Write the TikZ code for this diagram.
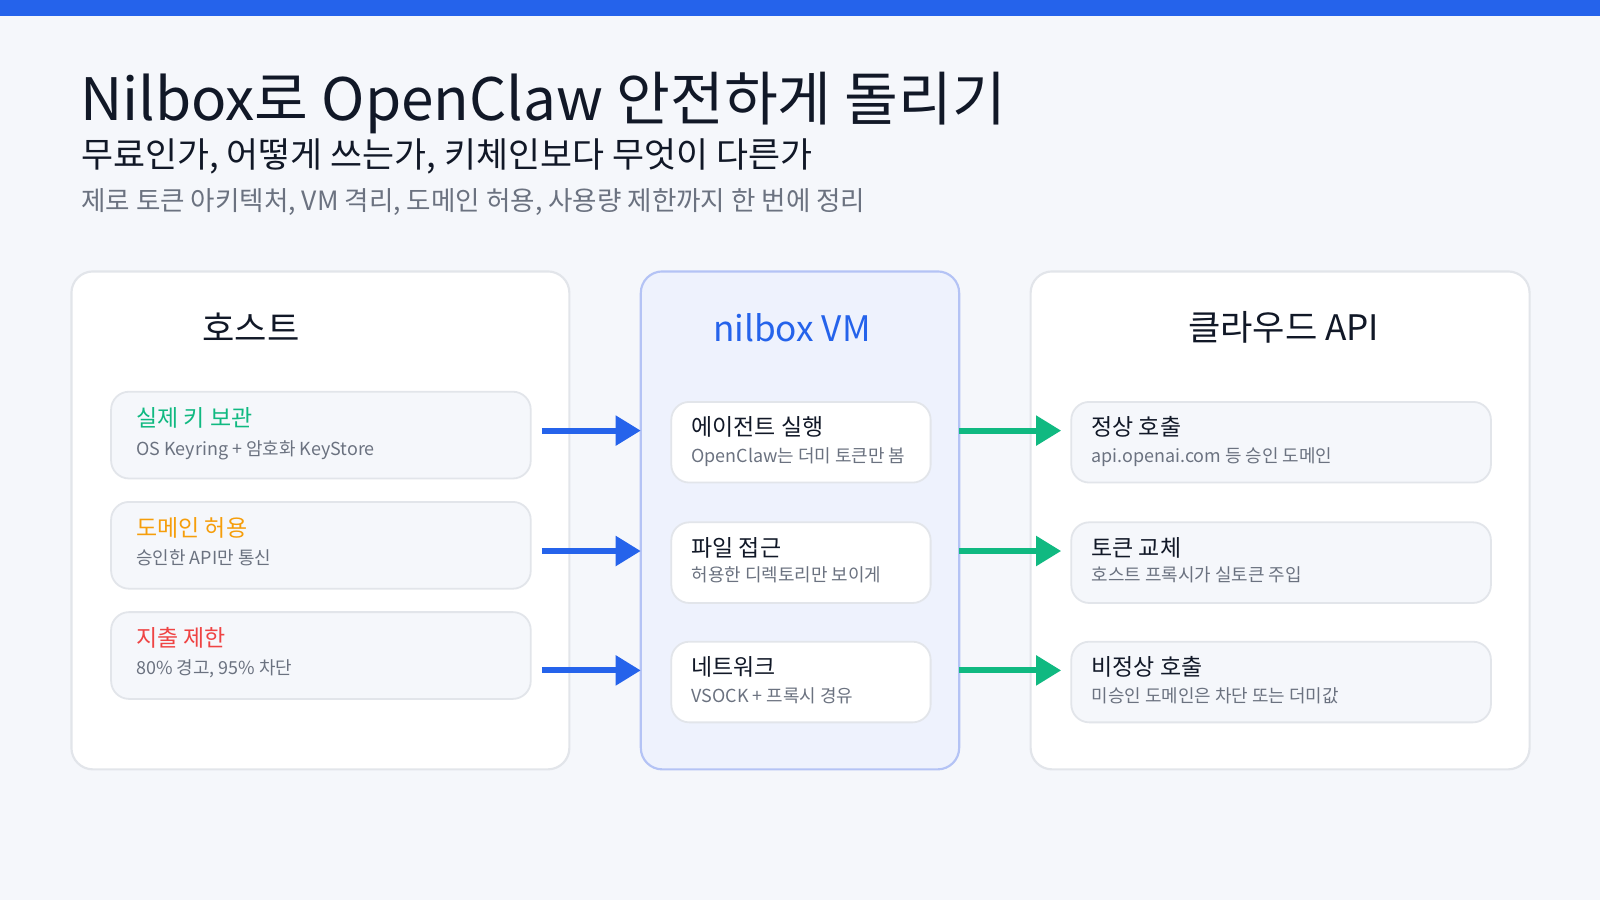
\documentclass[tikz,border=0pt]{standalone}
\usepackage{fontspec}
\setmainfont{Noto Sans CJK KR}
\usetikzlibrary{arrows.meta}
\definecolor{bg}{HTML}{F5F7FB}
\definecolor{topbar}{HTML}{2563EB}
\definecolor{ink}{HTML}{111827}
\definecolor{grayt}{HTML}{6B7280}
\definecolor{edge}{HTML}{E2E5EA}
\definecolor{vmfill}{HTML}{EEF2FD}
\definecolor{vmedge}{HTML}{B4C3F5}
\definecolor{cgreen}{HTML}{10B981}
\definecolor{corange}{HTML}{F59E0B}
\definecolor{cred}{HTML}{EF4444}
\tikzset{
  panel/.style={draw=edge, line width=0.6pt, fill=white, rounded corners=6pt},
  item/.style={draw=edge, line width=0.5pt, fill=#1, rounded corners=5pt, inner sep=0},
  head/.style={font=\fontsize{9.8}{11}\selectfont, text=ink},
  ititle/.style={anchor=base west, inner sep=0, font=\fontsize{6.4}{7}\selectfont},
  isub/.style={anchor=base west, inner sep=0, font=\fontsize{5}{6}\selectfont, text=grayt},
  arr/.style={line width=1.7pt, -{Triangle[length=7pt,width=8pt]}},
}
\begin{document}
\begin{tikzpicture}[x=0.01cm, y=-0.01cm]
    \fill[bg] (0,0) rectangle (1568,882);
    \fill[topbar] (0,0) rectangle (1568,16);

    % titles
    \node[anchor=base west, inner sep=0, text=ink, font=\fontsize{16.3}{18}\selectfont] (title) at (78,118) {Nilbox로 OpenClaw 안전하게 돌리기};
    \node[anchor=base west, inner sep=0, text=ink, font=\fontsize{9.7}{11}\selectfont] (sub) at (79,164) {무료인가, 어떻게 쓰는가, 키체인보다 무엇이 다른가};
    \node[anchor=base west, inner sep=0, text=grayt, font=\fontsize{7.4}{8}\selectfont] (note) at (79,206) {제로 토큰 아키텍처, VM 격리, 도메인 허용, 사용량 제한까지 한 번에 정리};

    % panels
    \draw[panel] (70,266) rectangle (558,754);
    \draw[panel, fill=vmfill, draw=vmedge] (628,266) rectangle (940,754);
    \draw[panel] (1010,266) rectangle (1499,754);
    \coordinate (vmw) at (628,0);
    \coordinate (vme) at (940,0);
    \node[head] at (246,321) {호스트};
    \node[head, text=topbar] at (776,321) {nilbox VM};
    \node[head] at (1258,321) {클라우드 API};

    % host items
    \foreach \n/\y in {h1/383, h2/491, h3/599}
        \node[item=bg, minimum width=4.11cm, minimum height=0.85cm, anchor=north west] (\n) at (108,\y) {};
    \node[ititle, text=cgreen] at (133,418) {실제 키 보관};
    \node[isub] at (133,446) {OS Keyring + 암호화 KeyStore};
    \node[ititle, text=corange] at (133,526) {도메인 허용};
    \node[isub] at (133,553) {승인한 API만 통신};
    \node[ititle, text=cred] at (133,634) {지출 제한};
    \node[isub] at (133,661) {80\% 경고, 95\% 차단};

    % vm items
    \foreach \n/\y in {v1/393, v2/511, v3/628}
        \node[item=white, minimum width=2.54cm, minimum height=0.79cm, anchor=north west] (\n) at (657,\y) {};
    \node[ititle, text=ink] at (677,427) {에이전트 실행};
    \node[isub] at (677,453) {OpenClaw는 더미 토큰만 봄};
    \node[ititle, text=ink] at (677,545) {파일 접근};
    \node[isub] at (677,570) {허용한 디렉토리만 보이게};
    \node[ititle, text=ink] at (677,662) {네트워크};
    \node[isub] at (677,688) {VSOCK + 프록시 경유};

    % cloud items
    \foreach \n/\y in {c1/393, c2/511, c3/628}
        \node[item=bg, minimum width=4.11cm, minimum height=0.79cm, anchor=north west] (\n) at (1049,\y) {};
    \node[ititle, text=ink] at (1069,427) {정상 호출};
    \node[isub] at (1069,453) {api.openai.com 등 승인 도메인};
    \node[ititle, text=ink] at (1069,545) {토큰 교체};
    \node[isub] at (1069,570) {호스트 프록시가 실토큰 주입};
    \node[ititle, text=ink] at (1069,662) {비정상 호출};
    \node[isub] at (1069,688) {미승인 도메인은 차단 또는 더미값};

    % arrows
    \foreach \h/\y in {h1/422, h2/540, h3/657}
        \draw[arr, topbar] ([xshift=0.1cm]\h.east |- 0,\y) -- (vmw |- 0,\y);
    \foreach \c/\y in {c1/422, c2/540, c3/657}
        \draw[arr, cgreen, shorten >=0.09cm] (vme |- 0,\y) -- (\c.west |- 0,\y);
\end{tikzpicture}
\end{document}
